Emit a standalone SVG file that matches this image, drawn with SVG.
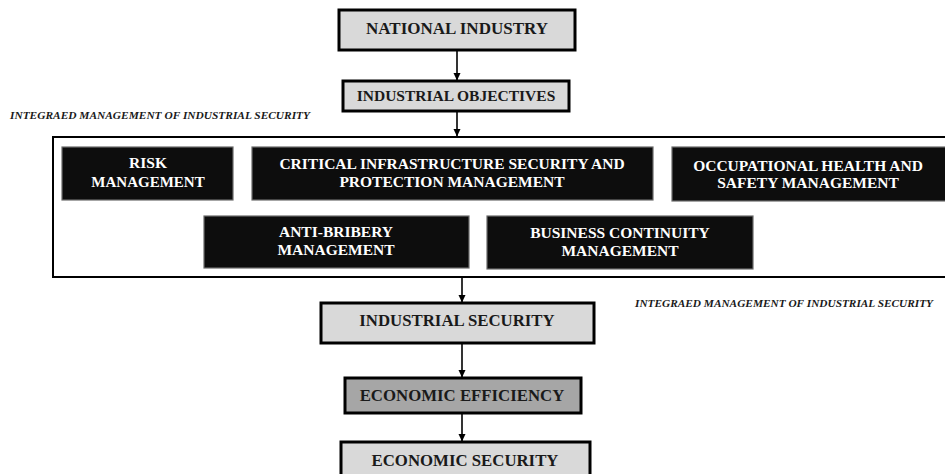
<svg xmlns="http://www.w3.org/2000/svg" width="945" height="474" viewBox="0 0 945 474">
  <defs>
    <marker id="arrow" markerWidth="8" markerHeight="8" refX="7" refY="4" orient="auto" markerUnits="userSpaceOnUse">
      <path d="M0,0.5 L7.5,4 L0,7.5 Z" fill="#000"/>
    </marker>
    <style>
      .grey { fill: #d9d9d9; stroke: #000; stroke-width: 3; }
      .grey-dark { fill: #a6a6a6; stroke: #000; stroke-width: 3; }
      .dark { fill: #0d0d0d; stroke: #6b6b6b; stroke-width: 1.2; }
      .lbl { font-family: "Liberation Serif", "Times New Roman", serif; font-weight: bold; text-anchor: middle; }
      .lbl-dark { fill: #1a1a1a; font-size: 16.8px; }
      .lbl-light { fill: #ffffff; font-size: 15.5px; }
      .note { font-family: "Liberation Serif", "Times New Roman", serif; font-weight: bold; font-style: italic; font-size: 10.5px; fill: #1a1a1a; }
      .conn { stroke: #000; stroke-width: 1.6; fill: none; marker-end: url(#arrow); }
    </style>
  </defs>

  <rect width="945" height="474" fill="#ffffff"/>

  <!-- container of the integrated management block -->
  <g id="integrated-block">
    <rect x="53" y="137" width="900" height="140" fill="#ffffff" stroke="#000" stroke-width="2"/>
  </g>

  <g id="caption-top">
    <text class="note" x="10" y="119" textLength="300" lengthAdjust="spacingAndGlyphs">INTEGRAED MANAGEMENT OF  INDUSTRIAL SECURITY</text>
  </g>
  <g id="caption-bottom">
    <text class="note" x="635" y="307" textLength="298" lengthAdjust="spacingAndGlyphs">INTEGRAED MANAGEMENT OF  INDUSTRIAL SECURITY</text>
  </g>

  <g id="connectors">
    <line class="conn" x1="457" y1="50" x2="457" y2="80"/>
    <line class="conn" x1="457" y1="111" x2="457" y2="136"/>
    <line class="conn" x1="462" y1="278" x2="462" y2="302"/>
    <line class="conn" x1="462" y1="344" x2="462" y2="377"/>
    <line class="conn" x1="462" y1="414" x2="462" y2="441"/>
  </g>

  <g id="national-industry">
    <rect class="grey" x="339" y="10" width="236" height="40"/>
    <text class="lbl lbl-dark" x="457" y="34" style="font-size:17px">NATIONAL INDUSTRY</text>
  </g>

  <g id="industrial-objectives">
    <rect class="grey" x="343" y="81" width="226" height="30"/>
    <text class="lbl lbl-dark" x="456" y="101" style="font-size:15.5px">INDUSTRIAL OBJECTIVES</text>
  </g>

  <g id="risk-management">
    <rect class="dark" x="62" y="147" width="171" height="53"/>
    <text class="lbl lbl-light" x="148" y="168">RISK</text>
    <text class="lbl lbl-light" x="148" y="187" style="font-size:15px">MANAGEMENT</text>
  </g>

  <g id="critical-infrastructure">
    <rect class="dark" x="252" y="147" width="401" height="53"/>
    <text class="lbl lbl-light" x="452" y="169">CRITICAL INFRASTRUCTURE SECURITY AND</text>
    <text class="lbl lbl-light" x="452" y="187">PROTECTION MANAGEMENT</text>
  </g>

  <g id="occupational-health">
    <rect class="dark" x="672" y="147" width="280" height="54"/>
    <text class="lbl lbl-light" x="808" y="171">OCCUPATIONAL HEALTH AND</text>
    <text class="lbl lbl-light" x="808" y="188">SAFETY MANAGEMENT</text>
  </g>

  <g id="anti-bribery">
    <rect class="dark" x="204" y="216" width="265" height="52"/>
    <text class="lbl lbl-light" x="336" y="237">ANTI-BRIBERY</text>
    <text class="lbl lbl-light" x="336" y="255">MANAGEMENT</text>
  </g>

  <g id="business-continuity">
    <rect class="dark" x="487" y="216" width="266" height="53"/>
    <text class="lbl lbl-light" x="620" y="238">BUSINESS CONTINUITY</text>
    <text class="lbl lbl-light" x="620" y="256">MANAGEMENT</text>
  </g>

  <g id="industrial-security">
    <rect class="grey" x="321" y="303" width="273" height="40"/>
    <text class="lbl lbl-dark" x="457" y="326">INDUSTRIAL SECURITY</text>
  </g>

  <g id="economic-efficiency">
    <rect class="grey-dark" x="345" y="378" width="236" height="35"/>
    <text class="lbl lbl-dark" x="462" y="401">ECONOMIC EFFICIENCY</text>
  </g>

  <g id="economic-security">
    <rect class="grey" x="341" y="442" width="249" height="40"/>
    <text class="lbl lbl-dark" x="465" y="466">ECONOMIC SECURITY</text>
  </g>
</svg>
